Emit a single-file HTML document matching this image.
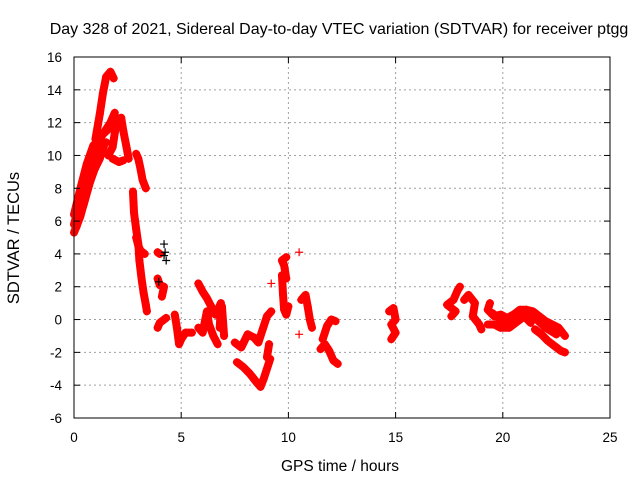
<!DOCTYPE html>
<html><head><meta charset="utf-8"><style>
body{margin:0;background:#fff}
svg{display:block;font-family:"Liberation Sans",sans-serif}
</style></head><body>
<svg id="chart" width="640" height="480">
<rect width="640" height="480" fill="#fff"/>
<g id="grid"></g><g id="marks"></g><g id="axes"></g>
</svg>
<script>
const xTicks=[0,5,10,15,20,25];
const yTicks=[-6,-4,-2,0,2,4,6,8,10,12,14,16];
const titleText="Day 328 of 2021, Sidereal Day-to-day VTEC variation (SDTVAR) for receiver ptgg";
const t1=[[0,5.3],[0.3,6.3],[0.6,7.8],[0.9,9],[1.2,9.8],[1.4,10.6]];
const t2=[[0,6.4],[0.3,8],[0.6,9.5],[0.9,10.6],[1.2,11],[1.5,11.6],[1.7,12],[1.9,12.6]];
const t3=[[0,5.8],[0.3,7.2],[0.6,8.8],[0.9,10],[1.2,10.5],[1.5,10.8]];
const t3b=[[0.15,6.2],[0.45,8.2],[0.75,9.6],[1.05,10.7],[1.35,11.3],[1.6,11.6]];
const t3c=[[0.1,5.6],[0.45,7.0],[0.75,8.4],[1.0,9.3],[1.3,10.2]];
const t4=[[1.0,11],[1.2,12.5],[1.35,13.8],[1.5,14.8],[1.7,15.1],[1.85,14.7]];
const t5=[[1.6,10],[1.8,10.5],[2.0,12.2],[2.2,12.3],[2.3,11.5],[2.45,10.5],[2.55,9.8]];
const t5b=[[1.8,9.8],[2.1,9.6],[2.3,9.7]];
const t6=[[2.9,10.1],[3.0,9.8],[3.1,9.2],[3.2,8.5],[3.35,8]];
const t7=[[2.75,7.8],[2.8,6.5],[2.9,5.5],[3.0,4.6],[3.05,3.6],[3.15,2.5],[3.25,1.6],[3.35,0.9],[3.4,0.5]];
const t8=[[2.9,5],[3.0,4.5],[3.1,4.2],[3.3,4]];
const t9a=[[3.9,4.1],[4.0,4.0]];
const t9b=[[3.9,2.5],[4.0,2.1],[4.2,2.0],[4.1,1.4]];
const t9c=[[3.9,-0.5],[4.0,-0.2],[4.3,0.1]];
const t9d=[[4.7,0.3],[4.8,-0.5],[4.9,-1.5],[5.0,-1.2],[5.2,-0.8],[5.5,-0.8]];
const t10a=[[5.8,2.2],[6.0,1.7],[6.2,1.3],[6.4,0.8],[6.5,0.4]];
const t10b=[[5.8,-0.5],[6.0,-0.8],[6.2,0.5],[6.3,-0.3],[6.5,-1.0],[6.7,-1.5]];
const t10c=[[6.6,0.3],[6.85,1.0],[6.8,-0.5],[6.9,0.8],[7.0,-1.0]];
const t11a=[[7.6,-2.6],[7.9,-2.9],[8.2,-3.3],[8.5,-3.8],[8.7,-4.1],[8.85,-3.6],[9.0,-3.0],[9.15,-2.4]];
const t11b=[[7.5,-1.4],[7.8,-1.7],[8.1,-0.9],[8.4,-1.1],[8.6,-1.4],[8.8,-0.6],[9.0,0.2],[9.2,0.5]];
const t11c=[[9.0,-2.3],[9.1,-1.5]];
const t12=[[9.9,3.8],[9.7,3.6],[9.8,3.3],[9.9,2.5],[9.7,2.7],[9.75,1.5],[9.8,0.6],[9.9,0.3],[10.0,0.8]];
const t12s=[[9.2,2.2],[10.5,4.1],[10.5,-0.9]];
const t13=[[10.6,1.2],[10.8,1.5],[10.9,0.8],[11.0,0],[11.1,-0.5]];
const t14a=[[11.6,-1.2],[11.8,-0.4],[12.0,0],[12.2,-0.1]];
const t14b=[[11.5,-1.8],[11.7,-1.5],[11.9,-1.9],[12.1,-2.5],[12.3,-2.7]];
const t15=[[14.7,0.5],[14.9,0.7],[15.0,0],[14.8,-0.3],[15.0,-0.8],[14.8,-1.2]];
const t16=[[17.6,0.2],[17.8,0.5],[17.4,0.9],[17.7,1.2],[17.9,1.8],[18.0,2.0]];
const t17=[[18.2,1.2],[18.4,1.5],[18.7,1.0],[18.6,0.2],[18.9,-0.3],[19.0,-0.6]];
const t18a=[[19.4,1.0],[19.3,0.6],[19.6,0.2],[19.9,0.3],[20.2,0.1],[20.5,0.3],[20.8,0.6],[21.1,0.6],[21.4,0.5],[21.7,0.2],[22.0,-0.1],[22.3,-0.3],[22.6,-0.5],[22.9,-1.0]];
const t18b=[[19.3,-0.3],[19.6,-0.3],[19.9,-0.5],[20.3,-0.5],[20.6,-0.2],[21.0,0.2],[21.3,-0.2]];
const t18c=[[21.5,-0.6],[21.8,-0.9],[22.1,-1.3],[22.4,-1.6],[22.7,-1.9],[22.9,-2.0]];
const t18d=[[19.5,0.4],[20.0,-0.1],[20.5,0.0],[21.0,0.5],[21.5,0.1],[22.0,-0.5],[22.5,-0.9]];
const blackPts=[[4.2,4.6],[4.25,4.1],[4.3,3.6],[4.2,3.9],[3.95,2.3]];
const tracks=[t1,t2,t3,t3b,t3c,t4,t5,t5b,t6,t7,t8,t9a,t9b,t9c,t9d,t10a,t10b,t10c,t11a,t11b,t11c,t12,t13,t14a,t14b,t15,t16,t17,t18a,t18b,t18c,t18d];

const L=74,R=610,T=57,B=418;
const sx=v=>L+(v-0)/(25-0)*(R-L);
const sy=v=>B-(v-(-6))/(16-(-6))*(B-T);
const NS="http://www.w3.org/2000/svg";
function mk(tag,attrs,parent){const e=document.createElementNS(NS,tag);for(const k in attrs)e.setAttribute(k,attrs[k]);parent.appendChild(e);return e;}
const grid=document.getElementById('grid'),marks=document.getElementById('marks'),axes=document.getElementById('axes');
xTicks.forEach(v=>{
 if(v>0&&v<25){const g=mk('line',{x1:sx(v),x2:sx(v),y1:T,y2:B,stroke:'#a0a0a0','stroke-dasharray':'2,3'},grid);
 
 }
 const t=mk('text',{x:sx(v),y:B+24,'text-anchor':'middle','font-size':13.5},axes);t.textContent=v;
 
 
 mk('line',{x1:sx(v),x2:sx(v),y1:B,y2:B-6,stroke:'#000'},axes);
 mk('line',{x1:sx(v),x2:sx(v),y1:T,y2:T+6,stroke:'#000'},axes);
});
yTicks.forEach(v=>{
 if(v>-6&&v<16){const g=mk('line',{x1:L,x2:R,y1:sy(v),y2:sy(v),stroke:'#a0a0a0','stroke-dasharray':'2,3'},grid);
 
 }
 const t=mk('text',{x:L-12,y:sy(v)+5,'text-anchor':'end','font-size':13.5},axes);t.textContent=v;
 
 
 mk('line',{x1:L,x2:L+6,y1:sy(v),y2:sy(v),stroke:'#000'},axes);
 mk('line',{x1:R,x2:R-6,y1:sy(v),y2:sy(v),stroke:'#000'},axes);
});
const frame=mk('rect',{x:L,y:T,width:R-L,height:B-T,fill:'none',stroke:'#000'},axes);


function plus(p,color,parent){
 const x=sx(p[0]),y=sy(p[1]);
 const e=mk('path',{d:`M${x-4} ${y}H${x+4}M${x} ${y-4}V${y+4}`,stroke:color,'stroke-width':1.2},parent);
 
 
}
tracks.forEach(tr=>{
 const pl=mk('polyline',{points:tr.map(p=>sx(p[0])+','+sy(p[1])).join(' '),fill:'none',stroke:'#ff0000','stroke-width':8,'stroke-linejoin':'round','stroke-linecap':'round'},marks);
 
 
 tr.forEach(p=>plus(p,'#ff0000',marks));
});
t12s.forEach(p=>plus(p,'#ff0000',marks));
blackPts.forEach(p=>plus(p,'#000',marks));
const title=mk('text',{x:339,y:34,'text-anchor':'middle','font-size':16},axes);title.textContent=titleText;


const xl=mk('text',{x:340,y:471,'text-anchor':'middle','font-size':15.5},axes);xl.textContent="GPS time / hours";


const yl=mk('text',{x:0,y:0,'text-anchor':'middle','font-size':16.5,transform:'translate(19,238) rotate(-90)'},axes);yl.textContent="SDTVAR / TECUs";


</script>
</body></html>
